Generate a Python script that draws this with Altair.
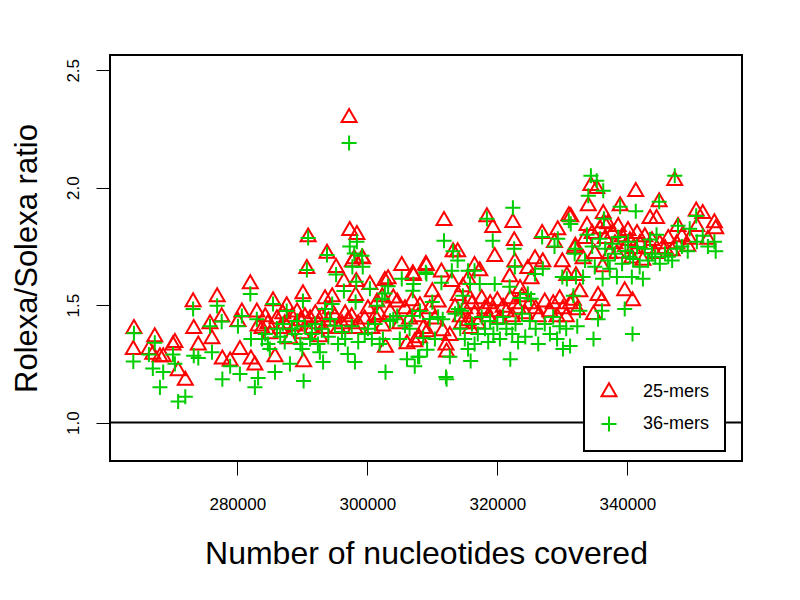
import altair as alt
import pandas as pd

# Number of nucleotides covered (shared by both k-mer sizes)
covered = [
    264100, 264000, 267300, 266400, 268600, 270400, 270100, 267000, 268100, 270900,
    272000, 273200, 273300, 274000, 276900, 277600, 275800, 276100, 277700, 278900,
    280400, 282700, 282000, 280700, 280100, 283000, 282100, 283200, 285500, 287600,
    290100, 290700, 290900, 290200, 288100, 285800, 293200, 293800, 293500, 294600,
    283800, 284300, 284700, 285000, 286100, 286600, 287000, 287300, 288400, 288900,
    289200, 289700, 290000, 290400, 291200, 291500, 292000, 292400, 292700, 293000,
    294000, 294300, 295000, 295500, 296100, 296600, 297000, 297600, 298100, 298600,
    297200, 297300, 298400, 299200, 295200, 298300, 300400, 296400, 298200, 297700, 299300, 298000,
    301500, 302300, 302700, 305300, 307000, 309000, 304600, 302400, 301200, 306100,
    307300, 302800, 301900, 307800, 308600, 309200, 311600, 311800, 311400, 313000,
    310000, 306900, 303200, 312100, 304000, 299600, 300100, 300700, 303500, 305000,
    305800, 306500, 308100, 309600, 310400, 310900, 308000, 312200, 313200, 313900,
    309100, 307100, 316500, 317300, 315500, 314700, 315800, 313500, 314000,
    319300, 318400, 322400, 322600, 319600, 321900, 322700, 324700, 325200, 325800,
    327000, 326900, 329300, 331000, 328800, 330000, 330700, 331900,
    314300, 315000, 315500, 316100, 316500, 317000, 317600, 318100, 318600, 318900,
    319400, 320000, 320400, 320900, 321400, 322000, 322300, 322800, 323200, 323800,
    324300, 325000, 325900, 326300, 327300, 328100, 328600, 329200, 329600, 330100,
    330600, 331200, 312700, 315900, 314500, 323500,
    334400, 335300, 336300, 341300, 347300, 334000, 344900, 338900, 336400, 350600,
    351600, 353600, 350700, 344500, 343500, 347800, 333800, 331300, 352400, 332000,
    332100, 336200, 338400, 340700, 342400, 339600, 340800, 332700, 335500, 336100,
    331700, 332300, 334800, 335800, 336600, 337000, 337700, 338100, 338600, 339200,
    339700, 340100, 340400, 340900, 341500, 341900, 342700, 343200, 343800, 344300,
    345000, 345800, 346300, 346900, 347600, 348400, 349300, 337300, 333500, 334600,
    335000, 333200, 353400, 349600,
]

# Rolexa/Solexa ratio for 25-mers
ratio_25 = [
    1.40, 1.31, 1.365, 1.31, 1.28, 1.34, 1.33, 1.29, 1.28, 1.22,
    1.18, 1.514, 1.40, 1.33, 1.535, 1.45, 1.42, 1.356, 1.27, 1.262,
    1.31, 1.245, 1.59, 1.47, 1.43, 1.47, 1.27, 1.41, 1.518, 1.497,
    1.548, 1.655, 1.79, 1.258, 1.356, 1.28, 1.40, 1.72, 1.527, 1.535,
    1.40, 1.45, 1.42, 1.377, 1.441, 1.40, 1.463, 1.42, 1.45, 1.41,
    1.47, 1.433, 1.377, 1.45, 1.441, 1.40, 1.463, 1.42, 1.365, 1.45,
    1.433, 1.484, 1.45, 1.40, 1.42, 1.463, 1.433, 1.45, 1.40, 1.42,
    2.298, 1.817, 1.80, 1.70, 1.66, 1.60, 1.587, 1.60, 1.54, 1.684, 1.697, 1.697,
    1.513, 1.535, 1.604, 1.668, 1.633, 1.672, 1.513, 1.41, 1.45, 1.335,
    1.343, 1.32, 1.46, 1.45, 1.40, 1.386, 1.39, 1.86, 1.64, 1.60,
    1.556, 1.518, 1.612, 1.33, 1.53, 1.44, 1.484, 1.40, 1.47, 1.42,
    1.484, 1.44, 1.497, 1.484, 1.44, 1.513, 1.36, 1.30, 1.727, 1.727,
    1.668, 1.625, 1.668, 1.646, 1.61, 1.578, 1.527, 1.49, 1.54,
    1.83, 1.876, 1.851, 1.774, 1.706, 1.62, 1.684, 1.655, 1.612, 1.697,
    1.684, 1.804, 1.82, 1.88, 1.766, 1.684, 1.625, 1.74,
    1.45, 1.484, 1.433, 1.505, 1.463, 1.42, 1.527, 1.484, 1.45, 1.505,
    1.471, 1.518, 1.441, 1.49, 1.471, 1.527, 1.45, 1.505, 1.484, 1.535,
    1.463, 1.505, 1.484, 1.45, 1.513, 1.471, 1.505, 1.45, 1.527, 1.484,
    1.45, 1.505, 1.37, 1.40, 1.42, 1.57,
    2.009, 1.996, 1.889, 1.983, 2.03, 1.923, 1.94, 1.923, 1.85, 1.90,
    1.889, 1.825, 1.834, 1.868, 1.868, 1.834, 1.838, 1.876, 1.78, 1.75,
    1.625, 1.663, 1.72, 1.70, 1.69, 1.561, 1.518, 1.556, 1.54, 1.518,
    1.52, 1.48, 1.46, 1.825, 1.783, 1.846, 1.804, 1.761, 1.834, 1.791,
    1.748, 1.817, 1.774, 1.74, 1.804, 1.761, 1.791, 1.74, 1.774, 1.719,
    1.761, 1.74, 1.783, 1.731, 1.761, 1.791, 1.75, 1.719, 1.783, 1.804,
    1.719, 1.697, 1.85, 1.78,
]

# Rolexa/Solexa ratio for 36-mers
ratio_36 = [
    1.38, 1.26, 1.34, 1.29, 1.215, 1.25, 1.29, 1.23, 1.15, 1.09,
    1.11, 1.484, 1.285, 1.275, 1.497, 1.43, 1.41, 1.30, 1.185, 1.24,
    1.207, 1.15, 1.548, 1.454, 1.41, 1.44, 1.356, 1.19, 1.505, 1.475,
    1.518, 1.65, 1.786, 1.177, 1.25, 1.215, 1.258, 1.714, 1.484, 1.505,
    1.356, 1.377, 1.335, 1.313, 1.40, 1.365, 1.42, 1.343, 1.40, 1.377,
    1.433, 1.335, 1.313, 1.41, 1.356, 1.377, 1.42, 1.335, 1.30, 1.40,
    1.365, 1.441, 1.412, 1.335, 1.386, 1.356, 1.292, 1.41, 1.258, 1.343,
    2.19, 1.75, 1.77, 1.71, 1.63, 1.60, 1.57, 1.56, 1.513, 1.663, 1.663, 1.72,
    1.497, 1.527, 1.55, 1.612, 1.561, 1.64, 1.454, 1.356, 1.42, 1.27,
    1.24, 1.215, 1.335, 1.28, 1.36, 1.31, 1.44, 1.774, 1.595, 1.646,
    1.513, 1.454, 1.58, 1.194, 1.44, 1.377, 1.40, 1.356, 1.433, 1.356,
    1.412, 1.40, 1.475, 1.441, 1.356, 1.45, 1.28, 1.185, 1.73, 1.69,
    1.633, 1.59, 1.646, 1.59, 1.646, 1.54, 1.59, 1.463, 1.484,
    1.774, 1.868, 1.915, 1.74, 1.59, 1.578, 1.663, 1.548, 1.527, 1.633,
    1.655, 1.79, 1.783, 1.859, 1.75, 1.62, 1.612, 1.719,
    1.40, 1.356, 1.313, 1.42, 1.335, 1.377, 1.45, 1.40, 1.343, 1.433,
    1.377, 1.42, 1.356, 1.45, 1.40, 1.27, 1.377, 1.42, 1.343, 1.463,
    1.365, 1.433, 1.40, 1.335, 1.42, 1.377, 1.45, 1.356, 1.41, 1.313,
    1.40, 1.326, 1.28, 1.262, 1.476, 1.53,
    2.051, 2.03, 1.987, 1.90, 2.051, 1.966, 1.94, 1.919, 1.868, 1.88,
    1.795, 1.73, 1.77, 1.80, 1.78, 1.838, 1.80, 1.846, 1.75, 1.74,
    1.62, 1.612, 1.62, 1.62, 1.612, 1.484, 1.377, 1.476, 1.44, 1.476,
    1.54, 1.41, 1.356, 1.783, 1.74, 1.69, 1.761, 1.719, 1.79, 1.676,
    1.731, 1.77, 1.706, 1.697, 1.748, 1.663, 1.74, 1.69, 1.719, 1.706,
    1.676, 1.719, 1.706, 1.69, 1.74, 1.75, 1.73, 1.655, 1.69, 1.75,
    1.663, 1.62, 1.77, 1.825,
]

series_names = ["25-mers", "36-mers"]
series_colors = ["#FF0000", "#00CD00"]
x_ticks = [280000, 300000, 320000, 340000]
y_ticks = [1.0, 1.5, 2.0, 2.5]
reference_level = [1.0]

assert len(covered) == len(ratio_25) == len(ratio_36)

df = pd.concat([
    pd.DataFrame({"covered": covered, "ratio": ratio_25, "kmer": series_names[0]}),
    pd.DataFrame({"covered": covered, "ratio": ratio_36, "kmer": series_names[1]}),
], ignore_index=True)

FONT = "Liberation Sans"
tri_path = "M0,-1L0.866,0.5L-0.866,0.5Z"
plus_path = "M-0.87,0L0.87,0M0,-0.87L0,0.87"

x_enc = alt.X(
    "covered:Q",
    scale=alt.Scale(domain=[260415, 357646], nice=False, zero=False),
    axis=alt.Axis(
        values=x_ticks, format="d", title="Number of nucleotides covered",
        domain=False, grid=False, tickSize=14, tickWidth=1, tickColor="black",
        labelFont=FONT, labelFontSize=17, labelColor="black", labelPadding=21,
        labelFlush=False, labelOverlap=False,
        titleFont=FONT, titleFontSize=32, titleFontWeight="normal", titleColor="black",
        titleX=316, titleY=102, titleBaseline="alphabetic", titleAlign="center",
    ),
)
y_enc = alt.Y(
    "ratio:Q",
    scale=alt.Scale(domain=[0.8365, 2.565], nice=False, zero=False),
    axis=alt.Axis(
        values=y_ticks, format=".1f", title="Rolexa/Solexa ratio",
        domain=False, grid=False, tickSize=14, tickWidth=1, tickColor="black",
        labelFont=FONT, labelFontSize=17, labelColor="black", labelPadding=14,
        labelAngle=270, labelAlign="center", labelBaseline="bottom",
        labelFlush=False, labelOverlap=False,
        titleFont=FONT, titleFontSize=31, titleFontWeight="normal", titleColor="black",
        titleX=-74, titleY=203, titleAngle=270, titleBaseline="alphabetic", titleAlign="center",
    ),
)

legend = alt.Legend(
    title=None, orient="none", legendX=474, legendY=312,
    fillColor="white", strokeColor="black", padding=15,
    labelFont=FONT, labelFontSize=18, labelColor="black",
    labelOffset=24, rowPadding=11, symbolSize=300, symbolStrokeWidth=2,
)

points = alt.Chart(df).mark_point(filled=False, size=300, strokeWidth=2, opacity=1).encode(
    x=x_enc,
    y=y_enc,
    color=alt.Color("kmer:N", scale=alt.Scale(domain=series_names, range=series_colors),
                    legend=legend),
    shape=alt.Shape("kmer:N", scale=alt.Scale(domain=series_names, range=[tri_path, plus_path]),
                    legend=legend),
    order=alt.Order("kmer:N"),
)

hline = alt.Chart(pd.DataFrame({"level": reference_level})).mark_rule(
    color="black", strokeWidth=2
).encode(y="level:Q")

chart = alt.layer(points, hline).properties(
    width=632, height=406,
    autosize=alt.AutoSizeParams(type="none"),
    padding={"left": 102, "top": 47, "right": 42, "bottom": 122},
    background="white",
).configure(font=FONT).configure_view(
    stroke="black", strokeWidth=2
).configure_legend(strokeWidth=2)

chart.save("out.html", embed_options={"renderer": "svg", "actions": False})
